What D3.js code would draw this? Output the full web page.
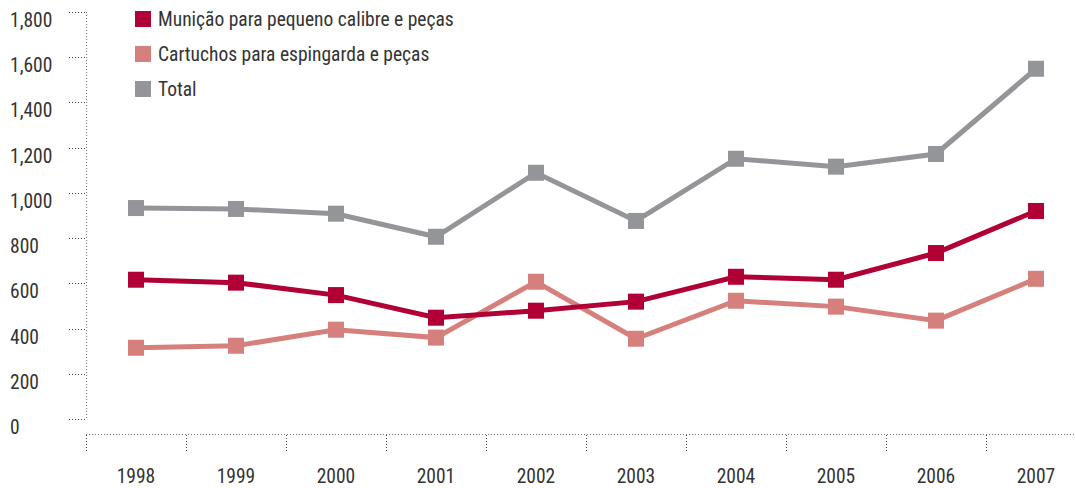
<!DOCTYPE html>
<html>
<head>
<meta charset="utf-8">
<script src="https://cdn.jsdelivr.net/npm/d3@7"></script>
<style>
  body { margin: 0; background: #fff; }
  svg text { font-family: "Roboto Condensed", "DejaVu Sans Condensed", sans-serif; fill: #333; font-weight: 400; }
</style>
</head>
<body>
<div class="chart"></div>
<script>
var years = ['1998','1999','2000','2001','2002','2003','2004','2005','2006','2007'];
var municao = [616, 603, 548, 448, 479, 519, 629, 616, 734, 920];
var cartuchos = [315, 324, 395, 360, 607, 355, 523, 497, 435, 620];
var total = [933, 929, 908, 806, 1089, 876, 1151, 1116, 1172, 1549];
var series_names = ['Munição para pequeno calibre e peças', 'Cartuchos para espingarda e peças', 'Total'];
var y_ticks = [0, 200, 400, 600, 800, 1000, 1200, 1400, 1600, 1800];

var width = 1075,
    height = 488;

var colors = ['#b00035', '#d6807d', '#939598'];

var svg = d3.select('.chart').append('svg')
    .attr('width', width)
    .attr('height', height);

var x = d3.scaleBand()
    .domain(years)
    .range([86, 1086]);

var y = d3.scaleLinear()
    .domain([0, 1800])
    .range([419, 12]);

// y axis: dotted spine + dotted ticks, labels left aligned
svg.append('line')
    .attr('x1', 86.5).attr('x2', 86.5)
    .attr('y1', 12).attr('y2', 419)
    .attr('stroke', '#777')
    .attr('stroke-dasharray', '1,2');

svg.selectAll('.ytick')
  .data(y_ticks)
  .enter().append('line')
    .attr('class', 'ytick')
    .attr('x1', 69).attr('x2', 86)
    .attr('y1', function(d) { return Math.round(y(d)) + 0.5; })
    .attr('y2', function(d) { return Math.round(y(d)) + 0.5; })
    .attr('stroke', '#444')
    .attr('stroke-dasharray', '1,2');

svg.selectAll('.ylabel')
  .data(y_ticks)
  .enter().append('text')
    .attr('class', 'ylabel')
    .attr('x', 10)
    .attr('y', function(d) { return y(d) + 15; })
    .style('font-size', '19.5px')
    .text(d3.format(','));

// x axis
svg.append('line')
    .attr('x1', 86).attr('x2', width)
    .attr('y1', 434.5).attr('y2', 434.5)
    .attr('stroke', '#777')
    .attr('stroke-dasharray', '1,2');

svg.selectAll('.xtick')
  .data(years)
  .enter().append('line')
    .attr('class', 'xtick')
    .attr('x1', function(d) { return x(d) + 0.5; })
    .attr('x2', function(d) { return x(d) + 0.5; })
    .attr('y1', 435).attr('y2', 451)
    .attr('stroke', '#444')
    .attr('stroke-dasharray', '1,2');

svg.selectAll('.xlabel')
  .data(years)
  .enter().append('text')
    .attr('class', 'xlabel')
    .attr('x', function(d) { return x(d) + x.bandwidth() / 2; })
    .attr('y', 483)
    .attr('text-anchor', 'middle')
    .style('font-size', '19.5px')
    .text(function(d) { return d; });

// lines + square markers
var all_series = [municao, cartuchos, total];
var line = d3.line()
    .x(function(d, i) { return x(years[i]) + x.bandwidth() / 2; })
    .y(function(d) { return y(d); });

// draw total first so the two lower series sit on top
[2, 1, 0].forEach(function(k) {
  var vals = all_series[k];
  svg.append('path')
    .attr('d', line(vals))
    .attr('fill', 'none')
    .attr('stroke', colors[k])
    .attr('stroke-width', 5)
    .attr('stroke-linejoin', 'miter');
  svg.selectAll('.mk' + k)
    .data(vals)
    .enter().append('rect')
      .attr('class', 'mk' + k)
      .attr('x', function(d, i) { return x(years[i]) + x.bandwidth() / 2 - 8; })
      .attr('y', function(d) { return y(d) - 8; })
      .attr('width', 16)
      .attr('height', 16)
      .attr('fill', colors[k]);
});

// legend
var legend = svg.selectAll('.legend')
  .data(series_names)
  .enter().append('g')
    .attr('class', 'legend')
    .attr('transform', function(d, i) { return 'translate(135,' + (11 + i * 35) + ')'; });

legend.append('rect')
    .attr('width', 16)
    .attr('height', 16)
    .attr('fill', function(d, i) { return colors[i]; });

legend.append('text')
    .attr('x', 23)
    .attr('y', 15)
    .style('font-size', '19.5px')
    .text(function(d) { return d; });
</script>
</body>
</html>
